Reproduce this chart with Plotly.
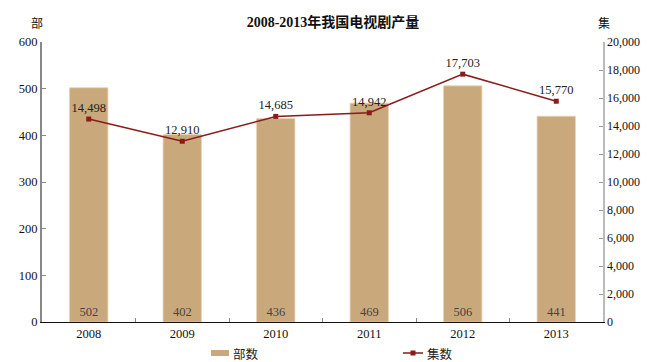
import plotly.graph_objects as go

years = ["2008", "2009", "2010", "2011", "2012", "2013"]
bu_values = [502, 402, 436, 469, 506, 441]
ji_values = [14498, 12910, 14685, 14942, 17703, 15770]
left_ticks = [0, 100, 200, 300, 400, 500, 600]
right_ticks = [0, 2000, 4000, 6000, 8000, 10000, 12000, 14000, 16000, 18000, 20000]
series_names = ["部数", "集数"]

serif = "Liberation Serif, Times New Roman, Noto Sans CJK SC, serif"
cjk = "Noto Sans CJK SC"
BAR_COLOR = "#C9A97B"
LINE_COLOR = "#8B1A1A"

W, H = 654, 362
ML, MR, MT, MB = 42, 51, 42, 40
plot_w = W - ML - MR
plot_h = H - MT - MB


def px(x):
    return (x - ML) / plot_w


def py(y):
    return (H - MB - y) / plot_h


fig = go.Figure()
fig.add_trace(go.Bar(
    x=years, y=bu_values, name=series_names[0],
    marker=dict(color=BAR_COLOR, line=dict(width=0.8, color="#E6D3B5")),
    width=0.41,
    text=[str(v) for v in bu_values],
    textposition="inside", insidetextanchor="start",
    textfont=dict(family=serif, size=12.5, color="#444444"),
    textangle=0, showlegend=False, hoverinfo="skip",
))
fig.add_trace(go.Scatter(
    x=years, y=ji_values, name=series_names[1], yaxis="y2",
    mode="lines+markers+text",
    line=dict(color=LINE_COLOR, width=1.5),
    marker=dict(symbol="square", size=5, color=LINE_COLOR),
    text=[f"{v:,}" for v in ji_values],
    textposition="top center",
    textfont=dict(family=serif, size=12.5, color="#222222"),
    showlegend=False, hoverinfo="skip",
))

fig.update_layout(
    template="none",
    width=W, height=H,
    font=dict(family=serif, color="#111111"),
    margin=dict(l=ML, r=MR, t=MT, b=MB, autoexpand=False),
    paper_bgcolor="white", plot_bgcolor="white",
    title=dict(text="<b>2008-2013年我国电视剧产量</b>", x=333 / W, xanchor="center",
               y=1 - 22 / H, yanchor="middle",
               font=dict(family=serif, size=14, color="#111111")),
    showlegend=False,
    xaxis=dict(
        type="category", showline=True, linecolor="#111111", linewidth=1.2,
        ticks="inside", tickson="boundaries", ticklen=4, tickcolor="#888888",
        tickfont=dict(family=serif, size=12.5, color="#111111"),
        showgrid=False, zeroline=False,
    ),
    yaxis=dict(
        range=[0, 600], tickvals=left_ticks, showline=True, linecolor="#888888",
        linewidth=2, ticks="inside", ticklen=4, tickcolor="#888888",
        tickfont=dict(family=serif, size=12.5, color="#111111"),
        showgrid=False, zeroline=False,
    ),
    yaxis2=dict(
        range=[0, 20000], tickvals=right_ticks, tickformat=",d",
        overlaying="y", side="right", showline=True, linecolor="#bbbbbb",
        linewidth=1.5, ticks="inside", ticklen=4, tickcolor="#999999",
        tickfont=dict(family=serif, size=12, color="#111111"),
        showgrid=False, zeroline=False,
    ),
)

# unit labels
fig.add_annotation(text="部", x=px(37), y=py(22), xref="paper", yref="paper",
                   showarrow=False, font=dict(family=cjk, size=12, color="#111111"),
                   xanchor="center", yanchor="middle")
fig.add_annotation(text="集", x=px(604), y=py(22), xref="paper", yref="paper",
                   showarrow=False, font=dict(family=cjk, size=12, color="#111111"),
                   xanchor="center", yanchor="middle")

# legend (drawn manually to match the swatch layout)
LEG_Y = 353
fig.add_shape(type="rect", xref="paper", yref="paper",
              x0=px(211), x1=px(229), y0=py(LEG_Y + 3), y1=py(LEG_Y - 3),
              fillcolor=BAR_COLOR, line=dict(width=0))
fig.add_annotation(text=series_names[0], x=px(231), y=py(LEG_Y), xref="paper", yref="paper",
                   showarrow=False, xanchor="left", yanchor="middle",
                   font=dict(family=cjk, size=12.5, color="#222222"))
fig.add_shape(type="line", xref="paper", yref="paper",
              x0=px(403), x1=px(423), y0=py(LEG_Y), y1=py(LEG_Y),
              line=dict(color=LINE_COLOR, width=1.5))
fig.add_shape(type="rect", xref="paper", yref="paper",
              x0=px(410.5), x1=px(415.5), y0=py(LEG_Y + 2.5), y1=py(LEG_Y - 2.5),
              fillcolor=LINE_COLOR, line=dict(width=0))
fig.add_annotation(text=series_names[1], x=px(425), y=py(LEG_Y), xref="paper", yref="paper",
                   showarrow=False, xanchor="left", yanchor="middle",
                   font=dict(family=cjk, size=12.5, color="#222222"))

fig.write_html("out.html", config={"displayModeBar": False, "staticPlot": True},
               post_script="document.body.style.margin='0';document.body.style.overflow='hidden';")
